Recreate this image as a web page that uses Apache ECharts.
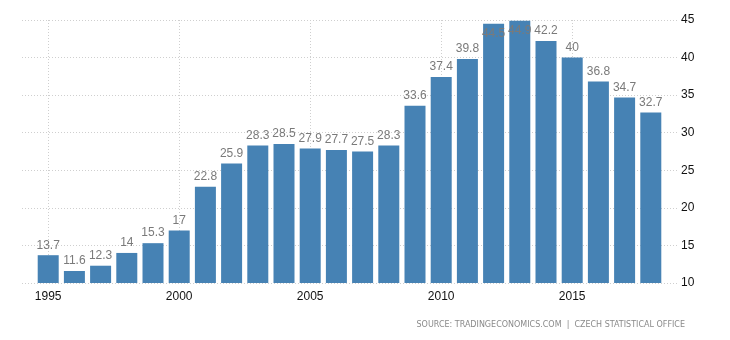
<!DOCTYPE html>
<html>
<head>
<meta charset="utf-8">
<script src="https://cdn.jsdelivr.net/npm/echarts@6/dist/echarts.min.js"></script>
<style>
  html, body { margin: 0; padding: 0; background: #fff; }
  #chart { width: 730px; height: 340px; }
</style>
</head>
<body>
<div id="chart"></div>
<script>
// Axis spans one empty year on each side of the data
const years = ['1994','1995','1996','1997','1998','1999','2000','2001','2002','2003','2004','2005','2006',
  '2007','2008','2009','2010','2011','2012','2013','2014','2015','2016','2017','2018','2019'];
const values = [null, 13.7, 11.6, 12.3, 14, 15.3, 17, 22.8, 25.9, 28.3, 28.5, 27.9, 27.7,
  27.5, 28.3, 33.6, 37.4, 39.8, 44.5, 44.9, 42.2, 40, 36.8, 34.7, 32.7, null];
const yTicks = [10, 15, 20, 25, 30, 35, 40, 45];
const sourceText = 'SOURCE: TRADINGECONOMICS.COM  |  CZECH STATISTICAL OFFICE';

const chart = echarts.init(document.getElementById('chart'), null, { renderer: 'canvas' });

const isMajorYear = (i, v) => Number(v) % 5 === 0;

const barData = values.map(v => {
  if (v === null) return '-';
  // labels that would run above the plot top are tucked inside the bar
  if (v > 44) return { value: v, label: { position: 'insideTop', distance: 4 } };
  return v;
});

chart.setOption({
  animation: false,
  grid: { left: 22, right: 53, top: 20, bottom: 57, containLabel: false },
  xAxis: {
    type: 'category',
    data: years,
    boundaryGap: false,
    axisLine: { show: false },
    axisTick: { show: false },
    axisLabel: {
      interval: isMajorYear,
      color: '#111',
      fontFamily: 'Liberation Sans, Arial, sans-serif',
      fontSize: 12,
      margin: 8
    },
    splitLine: {
      show: true,
      interval: isMajorYear,
      lineStyle: { color: '#cfcfcf', type: [1, 2], width: 1 }
    }
  },
  yAxis: {
    type: 'value',
    position: 'right',
    min: yTicks[0],
    max: yTicks[yTicks.length - 1],
    interval: 5,
    axisLine: { show: false },
    axisTick: { show: false },
    axisLabel: {
      color: '#111',
      fontFamily: 'Liberation Sans, Arial, sans-serif',
      fontSize: 12,
      margin: 4
    },
    splitLine: { lineStyle: { color: '#cfcfcf', type: [1, 2], width: 1 } }
  },
  series: [{
    type: 'bar',
    data: barData,
    barWidth: 21,
    itemStyle: { color: '#4682b4' },
    label: {
      show: true,
      position: 'top',
      distance: 4,
      color: '#7a7a7a',
      fontFamily: 'Liberation Sans, Arial, sans-serif',
      fontSize: 12
    }
  }],
  graphic: [{
    type: 'text',
    right: 45,
    top: 321,
    style: {
      text: sourceText,
      fill: '#8a8a8a',
      font: '8px "DejaVu Sans", sans-serif'
    }
  }]
});
</script>
</body>
</html>
